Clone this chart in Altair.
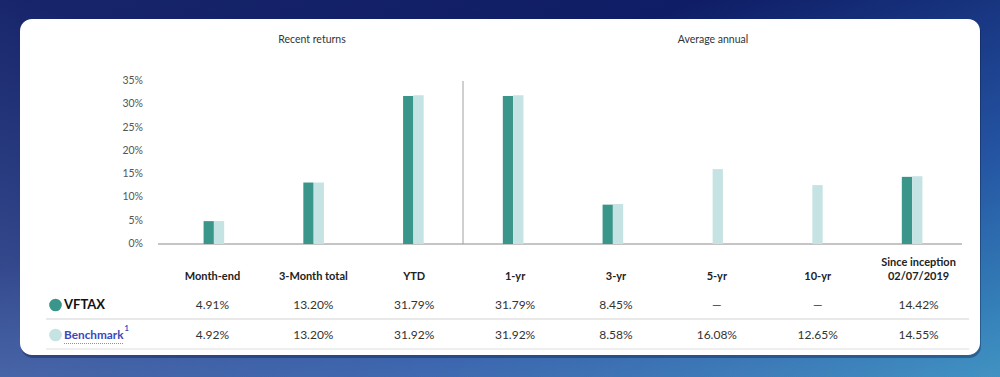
import altair as alt
import pandas as pd

# ---- data ----
categories = ["Month-end", "3-Month total", "YTD", "1-yr", "3-yr", "5-yr", "10-yr", "Since inception"]
header_line1 = ["", "", "", "", "", "", "", "Since inception"]
header_line2 = ["Month-end", "3-Month total", "YTD", "1-yr", "3-yr", "5-yr", "10-yr", "02/07/2019"]
vftax = [4.91, 13.20, 31.79, 31.79, 8.45, None, None, 14.42]
benchmark = [4.92, 13.20, 31.92, 31.92, 8.58, 16.08, 12.65, 14.55]
y_ticks = [0, 5, 10, 15, 20, 25, 30, 35]
series = ["VFTAX", "Benchmark"]
section_titles = ["Recent returns", "Average annual"]

FONT = "Lato"
DARK = "#3a958b"
LIGHT = "#c5e3e3"

def fmt(v):
    return "\u2014" if v is None else f"{v:.2f}%"

bars = pd.DataFrame(
    [{"cat": c, "series": "VFTAX", "value": v} for c, v in zip(categories, vftax) if v is not None]
    + [{"cat": c, "series": "Benchmark", "value": v} for c, v in zip(categories, benchmark)]
)
table = pd.DataFrame({
    "cat": categories,
    "h1": header_line1,
    "h2": header_line2,
    "v1": [fmt(v) for v in vftax],
    "v2": [fmt(v) for v in benchmark],
})
ticks = pd.DataFrame({"t": y_ticks, "label": [f"{t}%" for t in y_ticks]})
one = pd.DataFrame({"a": [0]})

yscale = alt.Scale(domain=[0, 35], range=[244, 81], nice=False, zero=True)
bar_x = alt.Scale(domain=categories, range=[164, 962], paddingInner=0.7935, paddingOuter=0.3968)
tab_x = alt.Scale(domain=categories, range=[162, 969], paddingInner=0, paddingOuter=0)

# ---- background & card ----
bg = alt.Chart(one).mark_rect(
    color=alt.LinearGradient(
        gradient="linear", x1=0, y1=0, x2=1, y2=1,
        stops=[alt.GradientStop(offset=0, color="#18256a"),
               alt.GradientStop(offset=0.35, color="#0f1d66"),
               alt.GradientStop(offset=0.7, color="#2454a2"),
               alt.GradientStop(offset=1, color="#3c93c2")]
    )
).encode(x=alt.value(0), x2=alt.value(1000), y=alt.value(0), y2=alt.value(377))

bg2 = alt.Chart(one).mark_rect(
    color=alt.LinearGradient(
        gradient="linear", x1=0, y1=1, x2=0.5, y2=0.4,
        stops=[alt.GradientStop(offset=0, color="rgba(110,140,200,0.55)"),
               alt.GradientStop(offset=1, color="rgba(110,140,200,0)")]
    )
).encode(x=alt.value(0), x2=alt.value(1000), y=alt.value(0), y2=alt.value(377))

shadow = alt.Chart(one).mark_rect(cornerRadius=12, color="#0a1540", opacity=0.35).encode(
    x=alt.value(21), x2=alt.value(981), y=alt.value(21), y2=alt.value(358))
card = alt.Chart(one).mark_rect(cornerRadius=12, color="white").encode(
    x=alt.value(20), x2=alt.value(980), y=alt.value(19), y2=alt.value(355))

# ---- section titles ----
titles = alt.Chart(pd.DataFrame({"t": section_titles, "x": [312, 713]})).mark_text(
    font=FONT, fontSize=10.5, color="#333333", baseline="middle", align="center"
).encode(x=alt.X("x:Q", scale=alt.Scale(domain=[0, 1000], range=[0, 1000]), axis=None), y=alt.value(40), text="t:N")

# ---- y labels ----
ylabels = alt.Chart(ticks).mark_text(
    font=FONT, fontSize=10.5, color="#555555", align="right", baseline="middle"
).encode(y=alt.Y("t:Q", scale=yscale, axis=None), x=alt.value(143), text="label:N")

baseline = alt.Chart(one).mark_rule(color="#8a8a8a", strokeWidth=1).encode(
    y=alt.datum(0, scale=yscale), x=alt.value(158), x2=alt.value(962))
divider = alt.Chart(one).mark_rule(color="#a0a0a0", strokeWidth=1).encode(
    y=alt.datum(35, scale=yscale), y2=alt.datum(0), x=alt.value(463))

# ---- bars ----
barlayer = alt.Chart(bars).mark_bar().encode(
    x=alt.X("cat:N", scale=bar_x, axis=None, sort=categories),
    xOffset=alt.XOffset("series:N", scale=alt.Scale(domain=series), sort=series),
    y=alt.Y("value:Q", scale=yscale, axis=None),
    y2=alt.datum(0),
    color=alt.Color("series:N", scale=alt.Scale(domain=series, range=[DARK, LIGHT]), legend=None),
)

# ---- table ----
hdr1 = alt.Chart(table).mark_text(
    font=FONT, fontSize=11, fontWeight="bold", color="#222222", align="center", baseline="middle"
).encode(x=alt.X("cat:N", scale=tab_x, axis=None, sort=categories), y=alt.value(263), text="h1:N")
hdr2 = alt.Chart(table).mark_text(
    font=FONT, fontSize=11, fontWeight="bold", color="#222222", align="center", baseline="middle"
).encode(x=alt.X("cat:N", scale=tab_x, axis=None, sort=categories), y=alt.value(277), text="h2:N")

row1 = alt.Chart(table).mark_text(
    font=FONT, fontSize=12, color="#333333", align="center", baseline="middle"
).encode(x=alt.X("cat:N", scale=tab_x, axis=None, sort=categories), y=alt.value(305), text="v1:N")

row2 = alt.Chart(table).mark_text(
    font=FONT, fontSize=12, color="#333333", align="center", baseline="middle"
).encode(x=alt.X("cat:N", scale=tab_x, axis=None, sort=categories), y=alt.value(335), text="v2:N")

line1 = alt.Chart(one).mark_rule(color="#e2e2e2", strokeWidth=1.5).encode(
    x=alt.value(46), x2=alt.value(969), y=alt.value(319))
line2 = alt.Chart(one).mark_rule(color="#dddddd", strokeWidth=1).encode(
    x=alt.value(46), x2=alt.value(969), y=alt.value(349))

# legend entries
leg = pd.DataFrame({"series": series, "y": [305, 335]})
dots = alt.Chart(leg).mark_point(filled=True, size=160, opacity=1).encode(
    x=alt.value(55.5), y=alt.Y("y:Q", scale=alt.Scale(domain=[0, 377], range=[0, 377]), axis=None),
    color=alt.Color("series:N", scale=alt.Scale(domain=series, range=[DARK, LIGHT]), legend=None))
lab1 = alt.Chart(pd.DataFrame({"t": [series[0]]})).mark_text(
    font=FONT, fontSize=13, fontWeight="bold", color="#111111", align="left", baseline="middle"
).encode(x=alt.value(64), y=alt.value(305), text="t:N")
lab2 = alt.Chart(pd.DataFrame({"t": [series[1]]})).mark_text(
    font=FONT, fontSize=11.8, fontWeight="bold", color="#3a48bb", align="left", baseline="middle"
).encode(x=alt.value(64), y=alt.value(335), text="t:N")
sup = alt.Chart(pd.DataFrame({"t": ["1"]})).mark_text(
    font=FONT, fontSize=7.5, fontWeight="bold", color="#3a48bb", align="left", baseline="middle"
).encode(x=alt.value(124.5), y=alt.value(329), text="t:N")
underline = alt.Chart(one).mark_rule(color="#8a90b0", strokeWidth=1, strokeDash=[1, 1]).encode(
    x=alt.value(64), x2=alt.value(124), y=alt.value(343.5))

chart = alt.layer(
    bg, bg2, shadow, card, titles, ylabels, baseline, divider, barlayer,
    hdr1, hdr2, row1, row2, line1, line2, dots, lab1, lab2, sup, underline
).resolve_scale(x="independent", y="independent", color="independent").properties(
    width=1000, height=377, autosize=alt.AutoSizeParams(type="none"), padding=0
).configure_view(stroke=None)

chart.save("out.html", embed_options={"renderer": "svg", "actions": False})
